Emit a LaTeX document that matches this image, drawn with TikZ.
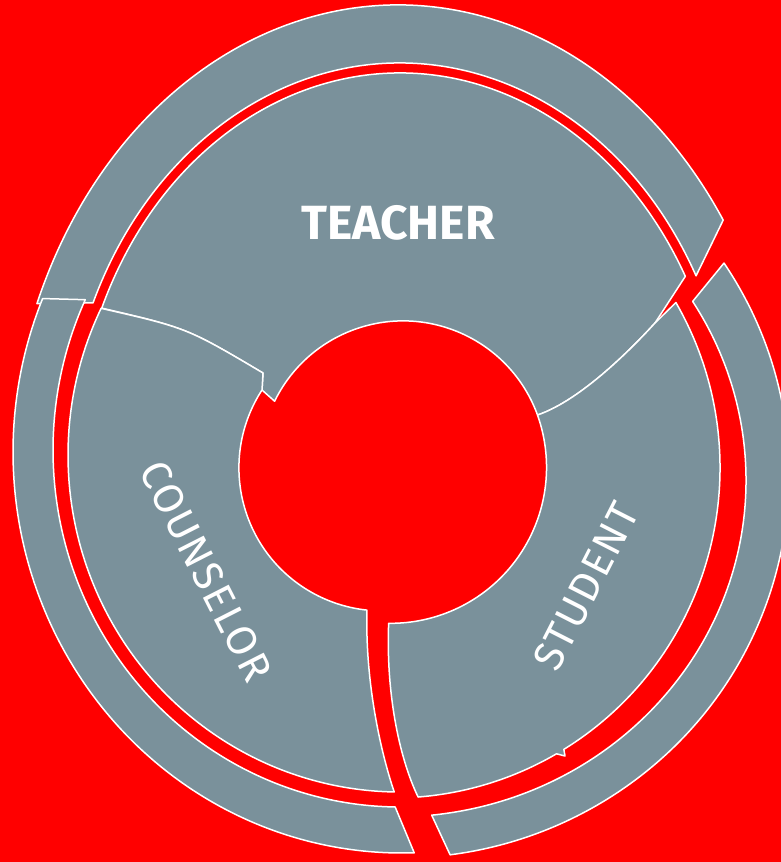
\documentclass[tikz,border=0pt]{standalone}
\usepackage{fontspec}
\usepackage{tkz-euclide}
\usetikzlibrary{calc}
\setmainfont{Fira Sans}
\definecolor{slate}{RGB}{122,145,155}
\definecolor{bgred}{RGB}{255,0,0}
\tikzset{piece/.style={fill=slate, draw=white, line width=1.5pt, line join=round},
         tag/.style={text=white, inner sep=0pt, font=\fontsize{42}{42}\selectfont\addfontfeature{LetterSpace=4}}}

\begin{document}
\begin{tikzpicture}[x=1pt, y=-1pt]
    \fill[bgred] (0,0) rectangle (781,862);
    \useasboundingbox (0,0) rectangle (781,862);
    % centres of the rims
    \tkzDefPoints{398/485/Oa, 400/463/Ob, 400/475/Oc, 395/480/Od, 402/452/Oe, 400/450/Of, 400/455/Og, 393/468/Oh}
    \tkzDefPoints{263/373/N1, 262/390/N2, 655/323/Tk, 537.5/415/Tm, 565/756/Sn}
    \coordinate (To1) at ($(Oa)+(-157.8:390 and 480)$);
    \coordinate (Ti2) at ($(Ob)+(-27.9:335 and 400)$);
    \coordinate (Ro1) at ($(Oc)+(-33.6:389 and 383)$);
    \coordinate (Ri2) at ($(Od)+(84:351 and 337)$);
    \coordinate (Lo1) at ($(Oe)+(-157.5:389 and 401)$);
    \coordinate (Lo2) at ($(Oe)+(88.2:389 and 401)$);
    \coordinate (Li1) at ($(Of)+(-155.1:347 and 357)$);
    \coordinate (C0) at ($(Og)+(-154.2:332 and 337)$);
    \coordinate (Cc) at ($(Og)+(91:332 and 337)$);
    \coordinate (Ct) at ($(Ob)+(-156.6:325 and 390)$);
    \coordinate (Sr) at ($(Oh)+(-30.1:327 and 330)$);
    \coordinate (Sc) at ($(Oh)+(85.6:327 and 330)$);
    \coordinate (Sk) at ($(Oh)+(58.5:327 and 330)$);
    % outer ring
    \draw[piece] (To1) arc[start angle=-157.8, end angle=-33.5, x radius=390, y radius=480]
        -- (Ti2) arc[start angle=-27.9, end angle=-156.4, x radius=335, y radius=400] -- cycle;
    \draw[piece] (Ro1) arc[start angle=-33.6, end angle=82.6, x radius=389, y radius=383]
        -- (Ri2) arc[start angle=84, end angle=-32, x radius=351, y radius=337] -- cycle;
    \draw[piece] (Lo1) -- (Li1) arc[start angle=-155.1, end angle=-269.2, x radius=347, y radius=357]
        -- (Lo2) arc[start angle=-271.8, end angle=-157.5, x radius=389, y radius=401] -- cycle;
    % inner ring
    \draw[piece] (Ct) arc[start angle=-156.6, end angle=-28.6, x radius=325, y radius=390]
        -- (Tk) .. controls (635,345) and (582,400) .. (Tm)
        arc[start angle=-20, end angle=-154, radius=143] -- (N2) -- (N1) .. controls (187,328) .. (Ct) -- cycle;
    \draw[piece] (C0) .. controls (187,328) .. (N1) -- (N2)
        arc[start angle=213, end angle=96, radius=143] .. controls (365,680) and (380,750) .. (Cc)
        arc[start angle=91, end angle=205.8, x radius=332, y radius=337] -- cycle;
    \draw[piece] (Sr) -- (Tk) .. controls (635,345) and (582,400) .. (Tm)
        arc[start angle=-19.6, end angle=90.7, radius=156] .. controls (386,690) and (398,755) .. (Sc)
        arc[start angle=85.6, end angle=60, x radius=327, y radius=330] -- (Sn) -- (Sk)
        arc[start angle=58.5, end angle=-30.1, x radius=327, y radius=330] -- cycle;
    % labels
    \node[tag, font=\bfseries\fontsize{48}{48}\selectfont] (teacher) at (398,223) {TEACHER};
    \node[tag, rotate=-63] (counselor) at (206,571) {COUNSELOR};
    \node[tag, rotate=63] (student) at (586,586) {STUDENT};
\end{tikzpicture}
\end{document}
